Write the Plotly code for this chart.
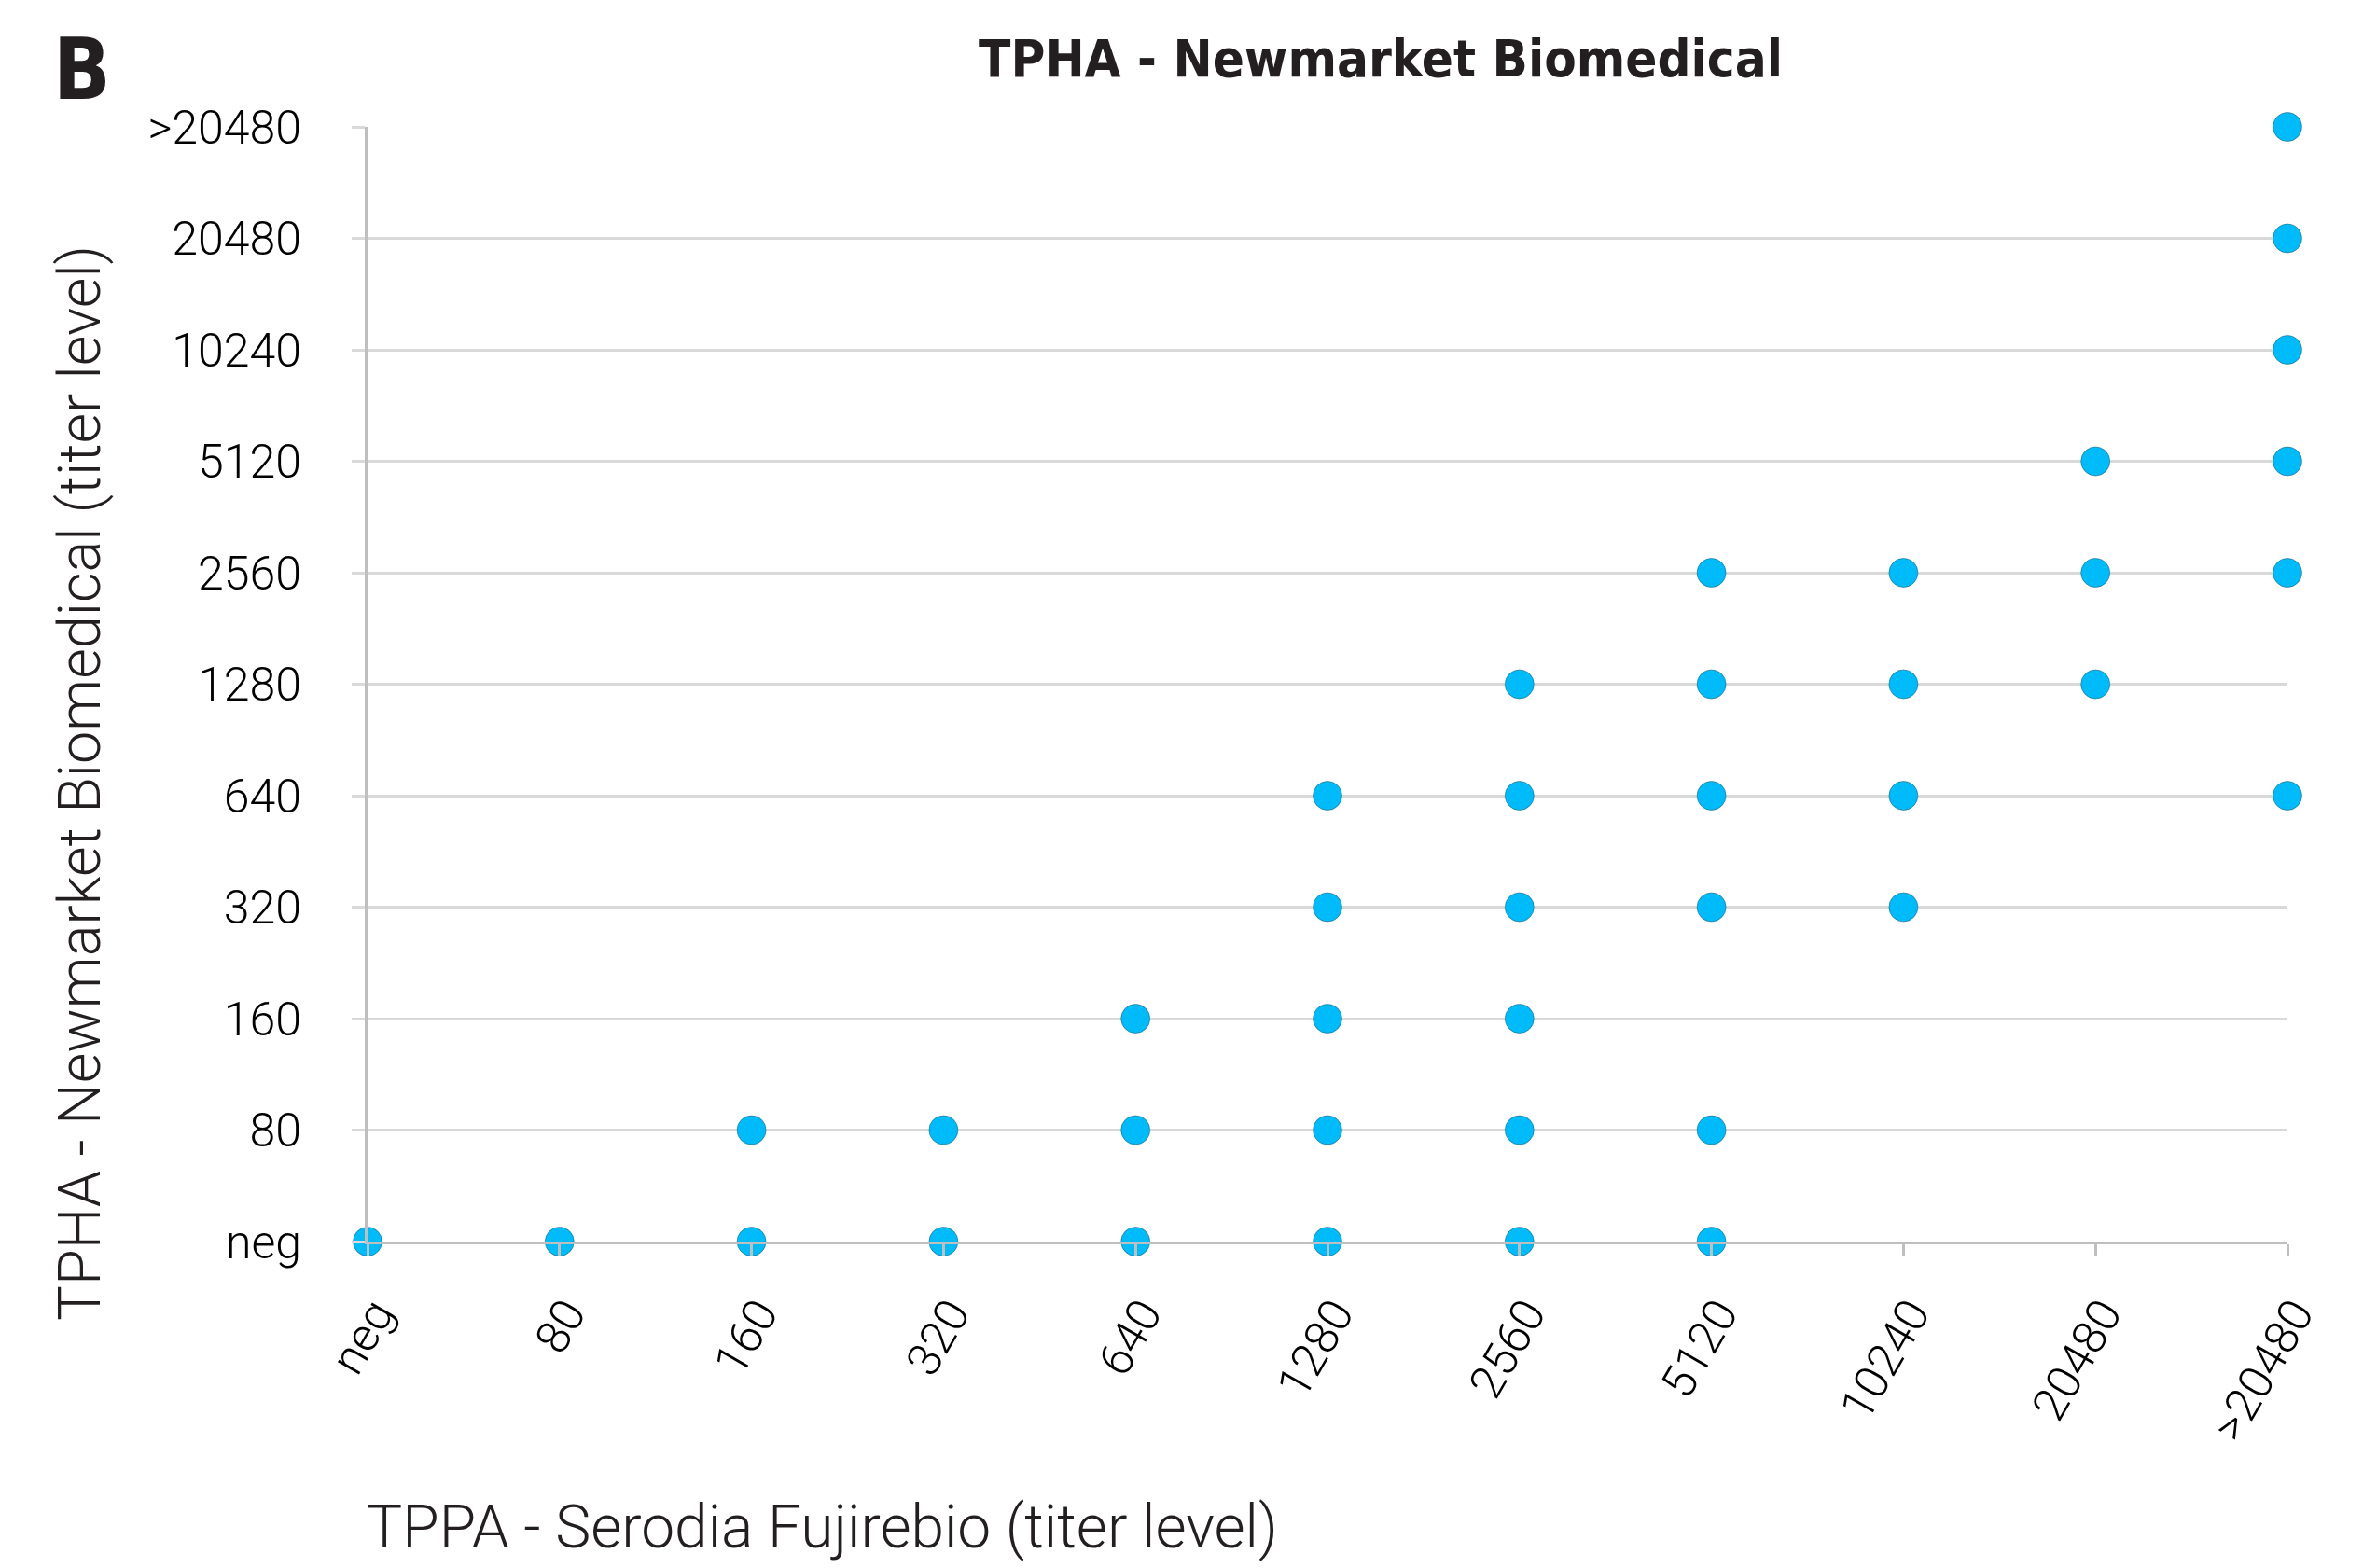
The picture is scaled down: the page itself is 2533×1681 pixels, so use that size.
import plotly.graph_objects as go

levels = ["neg", "80", "160", "320", "640", "1280", "2560", "5120", "10240", "20480", ">20480"]

# each point: TPPA (x) titer, TPHA (y) titer
tppa = ["neg",
        "80",
        "160", "160",
        "320", "320",
        "640", "640", "640",
        "1280", "1280", "1280", "1280", "1280",
        "2560", "2560", "2560", "2560", "2560", "2560",
        "5120", "5120", "5120", "5120", "5120", "5120",
        "10240", "10240", "10240", "10240",
        "20480", "20480", "20480",
        ">20480", ">20480", ">20480", ">20480", ">20480", ">20480"]
tpha = ["neg",
        "neg",
        "neg", "80",
        "neg", "80",
        "neg", "80", "160",
        "neg", "80", "160", "320", "640",
        "neg", "80", "160", "320", "640", "1280",
        "neg", "80", "320", "640", "1280", "2560",
        "320", "640", "1280", "2560",
        "1280", "2560", "5120",
        "640", "2560", "5120", "10240", "20480", ">20480"]

W, H = 2533, 1681
OFF = 6  # page body offset
L, R, T, B = 392 - OFF, 2450 - OFF, 134 - OFF, 1329.5 - OFF

FONT = "Roboto, 'DejaVu Sans', sans-serif"
COND = "'Liberation Sans Narrow', 'DejaVu Sans Condensed', Roboto, sans-serif"
DARK = "#231f20"

fig = go.Figure(go.Scatter(
    x=tppa, y=tpha, mode="markers", cliponaxis=False,
    marker=dict(size=31, color="#00BBF9", line=dict(width=1, color="rgba(30,70,90,0.45)")),
    showlegend=False))

fig.update_layout(
    width=W, height=H,
    margin=dict(l=L, r=W - R, t=T, b=H - B, pad=0),
    paper_bgcolor="white", plot_bgcolor="white",
    font=dict(family=FONT, color="black"),
    title=dict(text="<b>TPHA - Newmarket Biomedical</b>", x=(1478 - OFF) / W, xref="container",
               xanchor="center", y=1 - (60 - OFF) / H, yref="container", yanchor="middle",
               font=dict(size=56, color=DARK, family=COND)),
)

fig.update_xaxes(type="category", categoryorder="array", categoryarray=levels,
                 range=[0, 10], showgrid=False, zeroline=False,
                 showline=True, linecolor="#bfbfbf", linewidth=3,
                 ticks="outside", ticklen=13, tickwidth=3, tickcolor="#bfbfbf",
                 tickangle=-60, tickfont=dict(size=50, family=FONT, color="black", weight=300),
                 ticklabelstandoff=12, ticklabelshift=8)
fig.update_yaxes(type="category", categoryorder="array", categoryarray=levels,
                 range=[0, 10], showgrid=True, gridcolor="#d9d9d9", gridwidth=3,
                 zeroline=False, showline=True, linecolor="#bfbfbf", linewidth=3,
                 ticks="outside", ticklen=14, tickwidth=3, tickcolor="#d9d9d9",
                 tickfont=dict(size=50, family=FONT, color="black", weight=300),
                 ticklabelstandoff=44)

pw, ph = R - L, B - T
fig.add_annotation(text="<b>B</b>", xref="paper", yref="paper",
                   x=(53 - OFF - L) / pw, y=(B - (72 - OFF)) / ph, xanchor="left", yanchor="middle",
                   showarrow=False, font=dict(size=90, color=DARK, family=COND))
fig.add_annotation(text="TPHA - Newmarket Biomedical (titer level)", xref="paper", yref="paper",
                   x=(84 - OFF - L) / pw, y=(B - (838 - OFF)) / ph, xanchor="center", yanchor="middle",
                   textangle=-90, showarrow=False, font=dict(size=63, color=DARK, family=FONT, weight=300))
fig.add_annotation(text="TPPA - Serodia Fujirebio (titer level)", xref="paper", yref="paper",
                   x=(389 - OFF - L) / pw, y=(B - (1636 - OFF)) / ph, xanchor="left", yanchor="middle",
                   showarrow=False, font=dict(size=64, color=DARK, family=FONT, weight=300))

fig.write_html("out.html")
